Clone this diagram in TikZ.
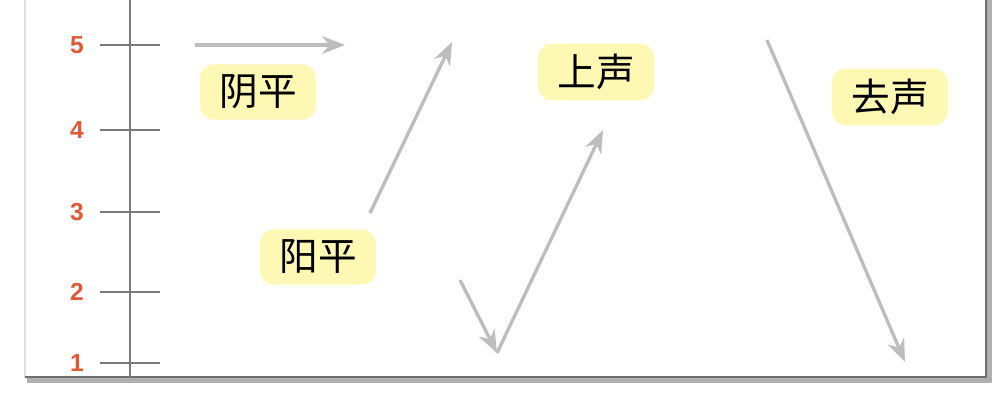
\documentclass[tikz,border=0pt]{standalone}
\usepackage{fontspec}
\newfontfamily\cjk{Noto Sans CJK SC}
\setsansfont{Liberation Sans}
\usepackage{tikz}
\usetikzlibrary{arrows.meta,positioning}
\definecolor{AxisGray}{HTML}{7A7A7A}
\definecolor{ArrowGray}{HTML}{BDBDBD}
\definecolor{NumRed}{HTML}{DD5A35}
\definecolor{LabelYellow}{HTML}{FDF8B4}
\definecolor{FrameDark}{HTML}{6E6E6E}

\begin{document}
\begin{tikzpicture}[x=0.02cm,y=-0.02cm,
    tick/.style={AxisGray,line width=1.4pt},
    num/.style={NumRed,font=\sffamily\bfseries\fontsize{14}{16}\selectfont,inner sep=1pt},
    tone/.style={ArrowGray,line width=1.9pt,-{Stealth[length=13pt,width=10pt]}},
    tonebox/.style={fill=LabelYellow,rounded corners=8pt,inner xsep=11pt,inner ysep=6pt,
      font=\cjk\fontsize{22}{24}\selectfont}]
  \useasboundingbox (0,0) rectangle (998,397);
  % frame of the card
  \draw[black!12,line width=1pt] (25,0) -- (25,378);
  \draw[FrameDark!55,line width=3pt] (27,380) -- (989,380) -- (989,0);
  \draw[FrameDark,line width=1.4pt] (25,377) -- (986,377) -- (986,0);
  % pitch scale
  \coordinate (top) at (130,0);
  \coordinate (bot) at (130,378);
  \draw[AxisGray,line width=1.4pt] (top) -- (bot);
  \foreach \v/\y in {5/45,4/130,3/212,2/292,1/363}{
    \coordinate (tl\v) at (100,\y);
    \coordinate (tr\v) at (160,\y);
    \draw[tick] (tl\v) -- (tr\v);
    \node[num,left=8pt] (n\v) at (tl\v) {\v};
  }
  % tone contours
  \coordinate (a0) at (195,45);  \coordinate (a1) at (345,45);
  \coordinate (b0) at (370,213); \coordinate (b1) at (452,42);
  \coordinate (c0) at (460,280); \coordinate (c1) at (497,353);
  \coordinate (c2) at (603,130);
  \coordinate (d0) at (767,40);  \coordinate (d1) at (905,362);
  \draw[tone] (a0) -- (a1);
  \draw[tone] (b0) -- (b1);
  \draw[tone] (c0) -- (c1);
  \draw[tone] (c1) -- (c2);
  \draw[tone] (d0) -- (d1);
  % tone names
  \node[tonebox] (yinping) at (258,92) {阴平};
  \node[tonebox] (yangping) at (318,257) {阳平};
  \node[tonebox] (shangsheng) at (596,72) {上声};
  \node[tonebox] (qusheng) at (890,97) {去声};
\end{tikzpicture}
\end{document}
